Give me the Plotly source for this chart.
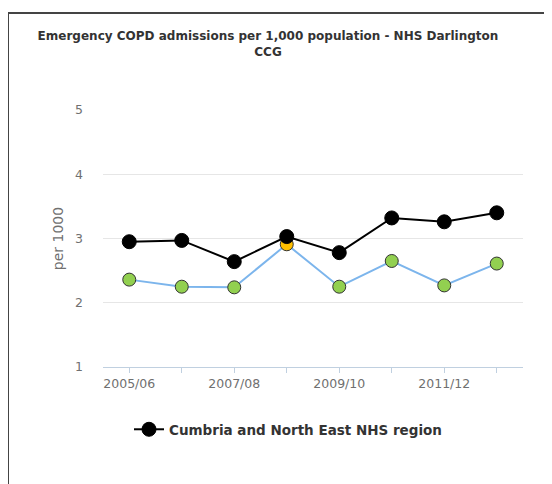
import plotly.graph_objects as go

categories = ["2005/06", "2006/07", "2007/08", "2008/09", "2009/10", "2010/11", "2011/12", "2012/13"]
region_values = [2.95, 2.97, 2.64, 3.03, 2.78, 3.32, 3.26, 3.40]
ccg_values = [2.36, 2.25, 2.24, 2.91, 2.25, 2.65, 2.27, 2.61]
ccg_colors = ["#92d050", "#92d050", "#92d050", "#ffc000", "#92d050", "#92d050", "#92d050", "#92d050"]
shown_labels = ["2005/06", "", "2007/08", "", "2009/10", "", "2011/12", ""]
y_ticks = [1, 2, 3, 4, 5]

FONT = "DejaVu Sans"
# page body has an 8px margin: plot area in figure coords
PL, PR, PT, PB = 95, 515, 102, 359
W, H = 552, 484
PW, PH = PR - PL, PB - PT

def px(x):
    return (x - PL) / PW

def py(y):
    return (PB - y) / PH

fig = go.Figure()
fig.add_trace(go.Scatter(
    x=categories, y=ccg_values, mode="lines+markers",
    name="NHS Darlington CCG", showlegend=False,
    line=dict(color="#7cb5ec", width=2),
    marker=dict(size=13, color=ccg_colors, line=dict(color="#333333", width=1)),
))
fig.add_trace(go.Scatter(
    x=categories, y=region_values, mode="lines+markers",
    name="<b>Cumbria and North East NHS region</b>",
    line=dict(color="#000000", width=2),
    marker=dict(size=14, color="#000000", line=dict(color="#000000", width=1)),
))

fig.update_layout(
    width=W, height=H,
    margin=dict(l=PL, r=W - PR, t=PT, b=H - PB),
    paper_bgcolor="white", plot_bgcolor="white",
    font=dict(family=FONT, color="#606060", size=12),
    title=dict(
        text="<b>Emergency COPD admissions per 1,000 population - NHS Darlington<br>CCG</b>",
        x=260 / W, xanchor="center", y=1 - 32 / H, yanchor="top",
        pad=dict(t=0),
        font=dict(family=FONT, size=12, color="#333333"),
    ),
    xaxis=dict(
        type="category", range=[-0.5, 7.5],
        tickmode="array", tickvals=categories, ticktext=shown_labels,
        showline=True, linecolor="#c0d0e0", linewidth=1,
        ticks="outside", ticklen=5, tickcolor="#c0d0e0",
        showgrid=False, zeroline=False,
        tickfont=dict(size=12.5, color="#707070"),
    ),
    yaxis=dict(
        range=[1, 5], tickvals=y_ticks,
        showgrid=True, gridcolor="#e6e6e6", gridwidth=1,
        zeroline=False, showline=False, ticks="", ticklabelstandoff=19,
        tickfont=dict(size=12.5, color="#707070"),
        title=dict(text="per 1000", font=dict(size=14, color="#707070"), standoff=8),
    ),
    legend=dict(
        orientation="h", x=px(280), xanchor="center", y=py(406), yanchor="top",
        font=dict(family=FONT, size=13.5, color="#333333"),
    ),
    shapes=[
        dict(type="line", xref="paper", yref="paper",
             x0=px(0), x1=px(W + 10),
             y0=py(5), y1=py(5),
             line=dict(color="#444444", width=2)),
        dict(type="line", xref="paper", yref="paper",
             x0=px(0), x1=px(0),
             y0=py(4), y1=py(H + 10),
             line=dict(color="#444444", width=2)),
    ],
)

fig.write_html("out.html", config={"displayModeBar": False})
